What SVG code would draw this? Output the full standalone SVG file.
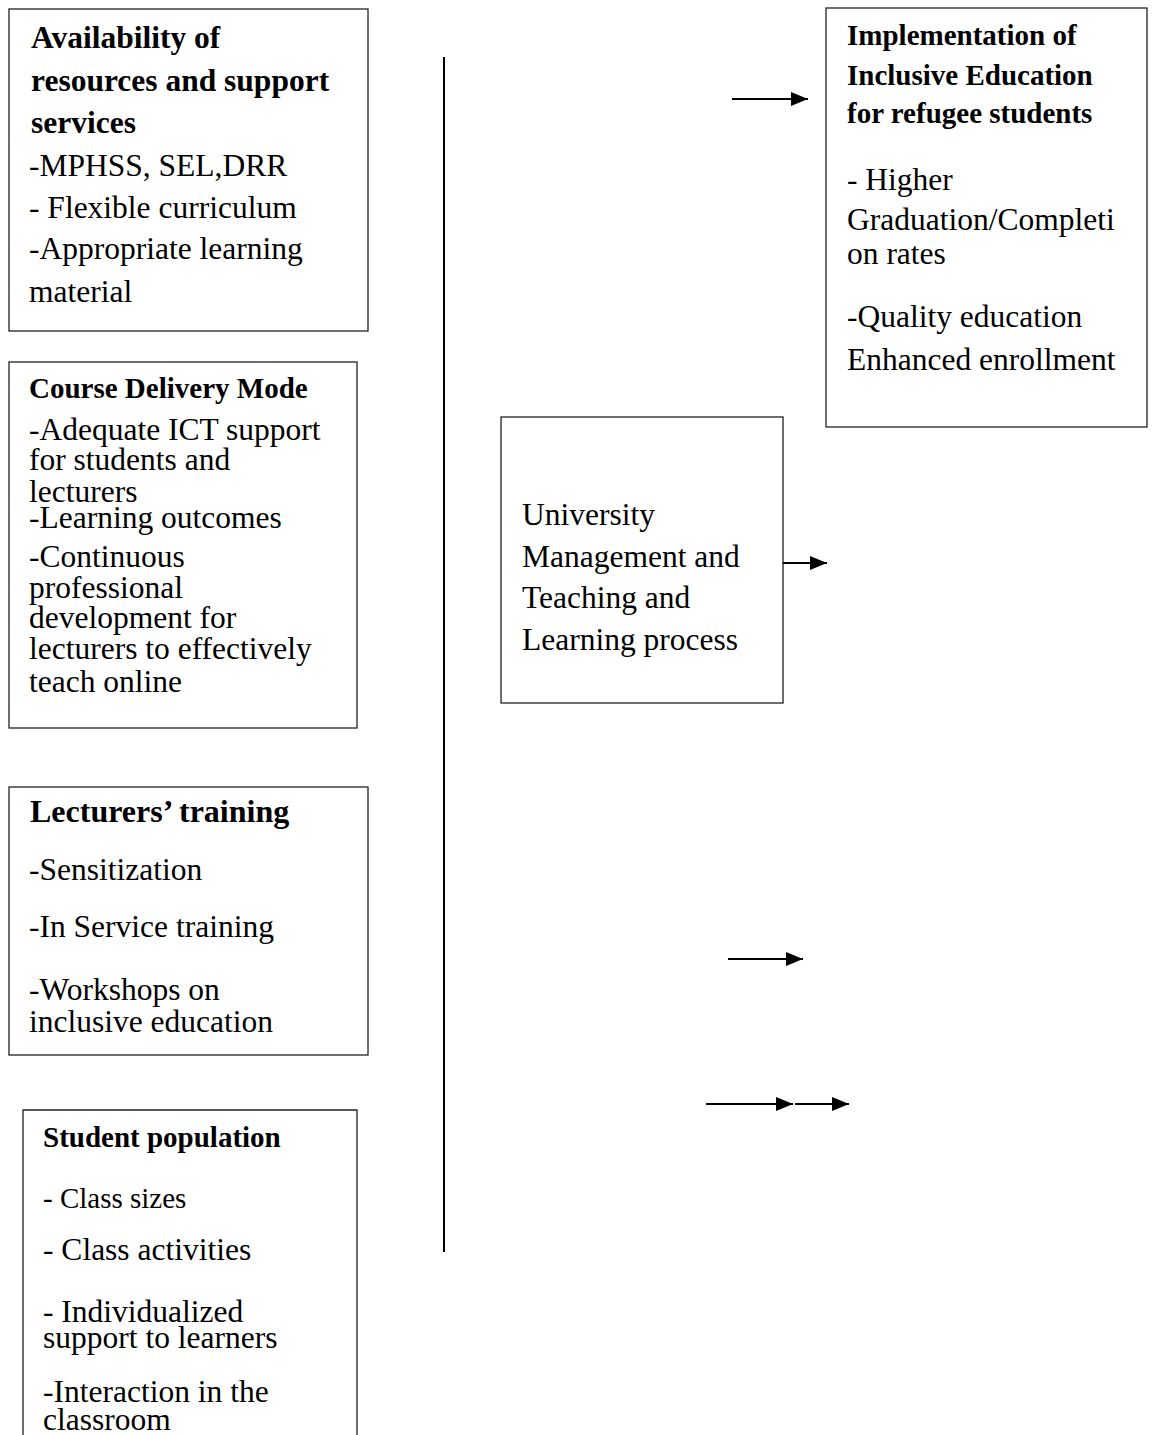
<svg xmlns="http://www.w3.org/2000/svg" width="1152" height="1435" viewBox="0 0 1152 1435">
<defs>
<marker id="ah" markerUnits="userSpaceOnUse" markerWidth="18" markerHeight="16" refX="17" refY="7" orient="auto">
<path d="M0,0 L17,7 L0,14 Z" fill="#000"/>
</marker>
<style>
.box{fill:#fff;stroke:#222;stroke-width:1.3}
text{font-family:"Liberation Serif","Times New Roman",serif;fill:#000}
.b{font-weight:bold}
.conn{stroke:#000;stroke-width:2.2;fill:none}
</style>
</defs>
<rect width="1152" height="1435" fill="#fff"/>
<g id="n-resources">
<rect class="box" x="9" y="9" width="359" height="322"/>
<text class="b" font-size="31.5"><tspan x="31" y="48">Availability of</tspan><tspan x="31" y="91">resources and support</tspan><tspan x="31" y="133">services</tspan></text>
<text font-size="31.5"><tspan x="29" y="176">-MPHSS, SEL,DRR</tspan><tspan x="29" y="218">- Flexible curriculum</tspan><tspan x="29" y="259">-Appropriate learning</tspan><tspan x="29" y="302">material</tspan></text>
</g>
<g id="n-course">
<rect class="box" x="9" y="362" width="348" height="366"/>
<text class="b" font-size="29"><tspan x="29" y="398">Course Delivery Mode</tspan></text>
<text font-size="31.5"><tspan x="29" y="440">-Adequate ICT support</tspan><tspan x="29" y="470">for students and</tspan><tspan x="29" y="502">lecturers</tspan><tspan x="29" y="528">-Learning outcomes</tspan><tspan x="29" y="567">-Continuous</tspan><tspan x="29" y="598">professional</tspan><tspan x="29" y="628">development for</tspan><tspan x="29" y="659">lecturers to effectively</tspan><tspan x="29" y="692">teach online</tspan></text>
</g>
<g id="n-lecturers">
<rect class="box" x="9" y="787" width="359" height="268"/>
<text class="b" font-size="32"><tspan x="30" y="822">Lecturers’ training</tspan></text>
<text font-size="31.5"><tspan x="29" y="880">-Sensitization</tspan><tspan x="29" y="937">-In Service training</tspan><tspan x="29" y="1000">-Workshops on</tspan><tspan x="29" y="1032">inclusive education</tspan></text>
</g>
<g id="n-students">
<path class="box" d="M23,1440 L23,1110 L357,1110 L357,1440"/>
<text class="b" font-size="29"><tspan x="43" y="1147">Student population</tspan></text>
<text font-size="29"><tspan x="43" y="1208">- Class sizes</tspan></text>
<text font-size="31.5"><tspan x="43" y="1260">- Class activities</tspan><tspan x="43" y="1322">- Individualized</tspan><tspan x="43" y="1348">support to learners</tspan><tspan x="43" y="1402">-Interaction in the</tspan><tspan x="43" y="1430">classroom</tspan></text>
</g>
<g id="n-university">
<rect class="box" x="501" y="417" width="282" height="286"/>
<text font-size="31.5"><tspan x="522" y="525">University</tspan><tspan x="522" y="567">Management and</tspan><tspan x="522" y="608">Teaching and</tspan><tspan x="522" y="650">Learning process</tspan></text>
</g>
<g id="n-implementation">
<rect class="box" x="826" y="8" width="321" height="419"/>
<text class="b" font-size="29"><tspan x="847" y="45">Implementation of</tspan><tspan x="847" y="85">Inclusive Education</tspan><tspan x="847" y="123">for refugee students</tspan></text>
<text font-size="31.5"><tspan x="847" y="190">- Higher</tspan><tspan x="847" y="230">Graduation/Completi</tspan><tspan x="847" y="264">on rates</tspan><tspan x="847" y="327">-Quality education</tspan><tspan x="847" y="370">Enhanced enrollment</tspan></text>
</g>
<g id="connectors">
<line class="conn" x1="444" y1="57" x2="444" y2="1252" style="stroke-width:2"/>
<line class="conn" x1="732" y1="99" x2="808" y2="99" marker-end="url(#ah)"/>
<line class="conn" x1="783" y1="563" x2="827" y2="563" marker-end="url(#ah)"/>
<line class="conn" x1="728" y1="959" x2="803" y2="959" marker-end="url(#ah)"/>
<line class="conn" x1="706" y1="1104" x2="793" y2="1104" marker-end="url(#ah)"/>
<line class="conn" x1="795" y1="1104" x2="849" y2="1104" marker-end="url(#ah)"/>
</g>
</svg>
